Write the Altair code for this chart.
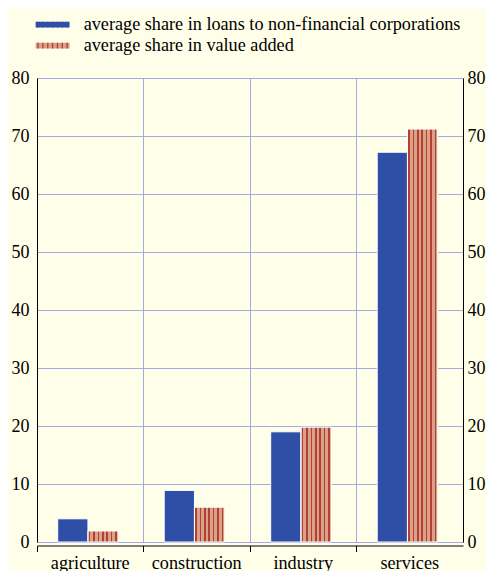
import altair as alt
import pandas as pd

categories = ["agriculture", "construction", "industry", "services"]
loans_share = [4.0, 8.9, 19.0, 67.2]
value_added_share = [1.9, 6.0, 19.8, 71.2]
series_labels = [
    "average share in loans to non-financial corporations",
    "average share in value added",
]
series_codes = ["L", "V"]
y_ticks = [0, 10, 20, 30, 40, 50, 60, 70, 80]

rows = []
for c, l, v in zip(categories, loans_share, value_added_share):
    rows.append({"category": c, "series": series_labels[0], "code": series_codes[0], "value": l})
    rows.append({"category": c, "series": series_labels[1], "code": series_codes[1], "value": v})
df = pd.DataFrame(rows)

BLUE = "#2f4fa7"
SALMON = "#d9a08a"
STRIPE = "#b5402f"
GRID = "#a4aae8"
BG = "#fffee9"
FONT = "Liberation Serif"

stops = [{"offset": 0, "color": SALMON}]
for k in range(7):
    c = 0.045 + k * 0.148
    a, b = max(c - 0.025, 0.0), min(c + 0.025, 1.0)
    stops += [
        {"offset": a, "color": SALMON},
        {"offset": a, "color": STRIPE},
        {"offset": b, "color": STRIPE},
        {"offset": b, "color": SALMON},
    ]
stops.append({"offset": 1, "color": SALMON})
stripes = {"gradient": "linear", "x1": 0, "y1": 0, "x2": 1, "y2": 0, "stops": stops}

RECT_PATH = "M-3,-0.5L3,-0.5L3,0.5L-3,0.5Z"
STRIPE_PATH = "".join(
    "M{0:.3f},-0.5L{0:.3f},0.5".format(-3 + (k + 0.5) * 6 / 7) for k in range(7)
)

common_legend = dict(
    title=None,
    orient="none",
    legendX=6.5,
    legendY=-62.5,
    padding=0,
    symbolSize=128,
    labelFont=FONT,
    labelFontSize=18.2,
    labelColor="black",
    labelLimit=600,
    rowPadding=2,
    symbolOpacity=1,
)

legend_a = alt.Legend(
    symbolType=RECT_PATH, symbolStrokeWidth=0, labelOffset=22, zindex=0, **common_legend
)
legend_b = alt.Legend(
    symbolType=STRIPE_PATH,
    symbolStrokeWidth=1.3,
    symbolFillColor="transparent",
    labelExpr="' '",
    labelOffset=0,
    zindex=1,
    **common_legend,
)

x_enc = alt.X(
    "category:N",
    sort=categories,
    scale=alt.Scale(paddingInner=0, paddingOuter=0),
    axis=alt.Axis(
        title=None,
        labelAngle=0,
        bandPosition=0,
        labelFont=FONT,
        labelFontSize=18.2,
        labelColor="black",
        labelPadding=3,
        domainColor="black",
        domainWidth=1,
        tickColor="black",
        tickSize=6,
        offset=3.5,
        grid=True,
        gridColor=GRID,
        gridWidth=1,
    ),
)

base = alt.Chart(df)

bars = base.mark_bar(stroke="white", strokeWidth=1).encode(
    x=x_enc,
    xOffset=alt.XOffset(
        "series:N",
        sort=series_labels,
        scale=alt.Scale(paddingInner=0, paddingOuter=0.76, align=0.45),
    ),
    y=alt.Y(
        "value:Q",
        scale=alt.Scale(domain=[0, 80], nice=False),
        axis=alt.Axis(
            title=None,
            values=y_ticks,
            orient="left",
            ticks=False,
            labelFont=FONT,
            labelFontSize=18,
            labelColor="black",
            labelPadding=8,
            domainColor="black",
            grid=True,
            gridColor=GRID,
            gridWidth=1,
        ),
    ),
    fill=alt.condition(
        alt.datum.series == series_labels[1],
        alt.value(stripes),
        alt.Fill(
            "series:N",
            sort=series_labels,
            scale=alt.Scale(domain=series_labels, range=[BLUE, SALMON]),
            legend=legend_a,
        ),
    ),
)

right_axis = base.mark_bar(opacity=0).encode(
    x=x_enc,
    y=alt.Y(
        "value:Q",
        scale=alt.Scale(domain=[0, 80], nice=False),
        axis=alt.Axis(
            title=None,
            values=y_ticks,
            orient="right",
            ticks=False,
            grid=False,
            labelFont=FONT,
            labelFontSize=18,
            labelColor="black",
            labelPadding=4,
            domainColor="black",
        ),
    ),
    stroke=alt.Stroke(
        "code:N",
        sort=series_codes,
        scale=alt.Scale(domain=series_codes, range=[BLUE, STRIPE]),
        legend=legend_b,
    ),
)

chart = (
    alt.layer(bars, right_axis)
    .resolve_axis(y="independent")
    .properties(
        width=426,
        height=464,
        background=BG,
        padding={"left": 29, "top": 70, "right": 23, "bottom": 30},
        autosize=alt.AutoSizeParams(type="none"),
    )
    .configure(font=FONT)
    .configure_view(stroke=None)
)

chart.save("out.html", embed_options={"renderer": "svg", "actions": False})
